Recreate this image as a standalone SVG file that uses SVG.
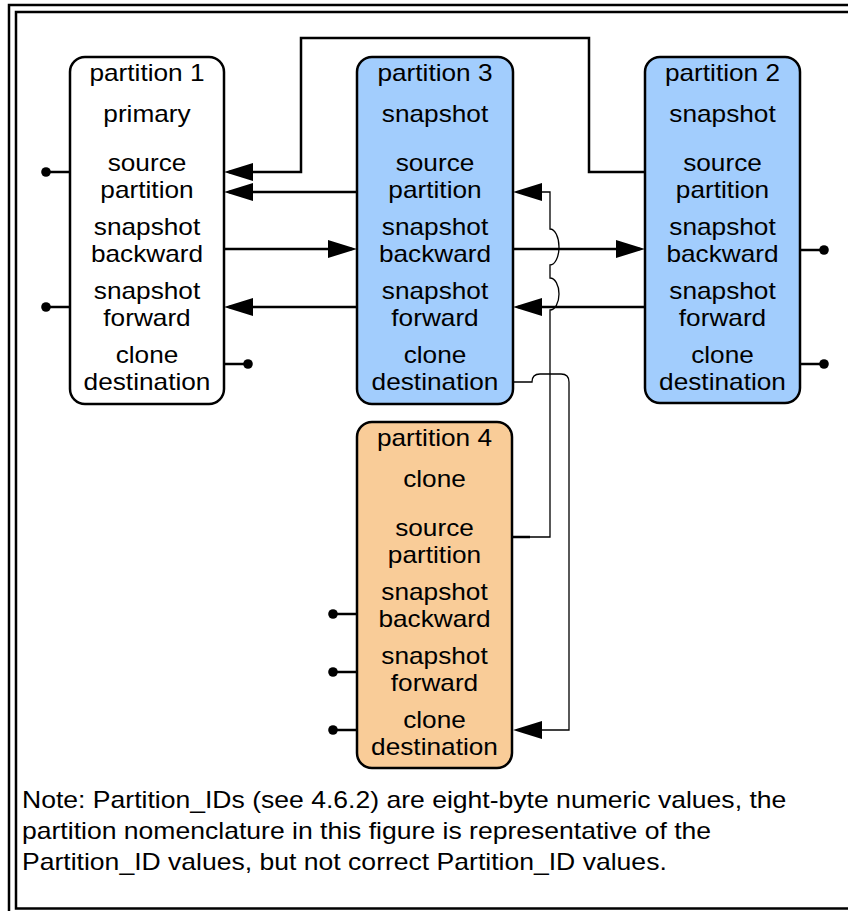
<svg xmlns="http://www.w3.org/2000/svg" width="848" height="911" viewBox="0 0 848 911">
<style>
.frame{fill:none;stroke:#000;stroke-width:2.5}
.box{stroke:#000;stroke-width:2.5}
.p1{fill:#fff}
.blue{fill:#a2cdfd}
.orange{fill:#f9cc98}
.lbl{font-family:"Liberation Sans",Arial,Helvetica,sans-serif;font-size:23px;fill:#000;text-anchor:middle}
.note{font-family:"Liberation Sans",Arial,Helvetica,sans-serif;font-size:23px;fill:#000}
.thick{fill:none;stroke:#000;stroke-width:2.5}
.thin{fill:none;stroke:#000;stroke-width:1.3}
.dot{fill:#000}
</style>
<defs>
<marker id="arr" viewBox="0 0 29 18" markerWidth="29" markerHeight="18" refX="24" refY="9" orient="auto" markerUnits="userSpaceOnUse">
<path d="M0,0 L29,9 L0,18 z" fill="#000"/>
</marker>
</defs>
<rect width="848" height="911" fill="#fff"/>
<path class="frame" d="M9,911 V5 H848"/>
<path class="frame" d="M848,12 H16 V908.5 H848"/>

<g id="partition1">
<rect class="box p1" x="70" y="57" width="154" height="347" rx="15"/>
<g class="lbl" transform="translate(147,0) scale(1.14,1)">
<text x="0" y="81">partition 1</text>
<text x="0" y="122">primary</text>
<text x="0" y="171">source</text>
<text x="0" y="198">partition</text>
<text x="0" y="235">snapshot</text>
<text x="0" y="262">backward</text>
<text x="0" y="299">snapshot</text>
<text x="0" y="326">forward</text>
<text x="0" y="363">clone</text>
<text x="0" y="390">destination</text>
</g>
</g>

<g id="partition3">
<rect class="box blue" x="357" y="57" width="156" height="347" rx="15"/>
<g class="lbl" transform="translate(435,0) scale(1.14,1)">
<text x="0" y="81">partition 3</text>
<text x="0" y="122">snapshot</text>
<text x="0" y="171">source</text>
<text x="0" y="198">partition</text>
<text x="0" y="235">snapshot</text>
<text x="0" y="262">backward</text>
<text x="0" y="299">snapshot</text>
<text x="0" y="326">forward</text>
<text x="0" y="363">clone</text>
<text x="0" y="390">destination</text>
</g>
</g>

<g id="partition2">
<rect class="box blue" x="645" y="57" width="155" height="346" rx="15"/>
<g class="lbl" transform="translate(722.5,0) scale(1.14,1)">
<text x="0" y="81">partition 2</text>
<text x="0" y="122">snapshot</text>
<text x="0" y="171">source</text>
<text x="0" y="198">partition</text>
<text x="0" y="235">snapshot</text>
<text x="0" y="262">backward</text>
<text x="0" y="299">snapshot</text>
<text x="0" y="326">forward</text>
<text x="0" y="363">clone</text>
<text x="0" y="390">destination</text>
</g>
</g>

<g id="partition4">
<rect class="box orange" x="357" y="422" width="155" height="346" rx="15"/>
<g class="lbl" transform="translate(434.5,0) scale(1.14,1)">
<text x="0" y="446">partition 4</text>
<text x="0" y="487">clone</text>
<text x="0" y="536">source</text>
<text x="0" y="563">partition</text>
<text x="0" y="600">snapshot</text>
<text x="0" y="627">backward</text>
<text x="0" y="664">snapshot</text>
<text x="0" y="691">forward</text>
<text x="0" y="728">clone</text>
<text x="0" y="755">destination</text>
</g>
</g>

<g id="connectors">
<path class="thick" d="M645,172 H589 V38 H301 V172 H229" marker-end="url(#arr)"/>
<path class="thick" d="M357,192 H229" marker-end="url(#arr)"/>
<path class="thick" d="M224,249 H352" marker-end="url(#arr)"/>
<path class="thick" d="M513,249 H640" marker-end="url(#arr)"/>
<path class="thick" d="M645,307 H518" marker-end="url(#arr)"/>
<path class="thick" d="M357,307 H229" marker-end="url(#arr)"/>
<path class="thick" d="M512,537 H530"/>
<path class="thin" d="M530,537 H550 V310 A9 16 0 0 0 550,278 V265 A9 18 0 0 0 550,229 V192 H518" marker-end="url(#arr)"/>
<path class="thin" d="M513,382 H532 Q532,374 540,374 H561 Q569,374 569,382 V730 H518" marker-end="url(#arr)"/>
<path class="thick" d="M46,172 H70"/>
<path class="thick" d="M46,307 H70"/>
<path class="thick" d="M224,364 H248"/>
<path class="thick" d="M800,250 H824"/>
<path class="thick" d="M800,364 H824"/>
<path class="thick" d="M333,614 H357"/>
<path class="thick" d="M333,672 H357"/>
<path class="thick" d="M333,730 H357"/>
<circle class="dot" cx="46" cy="172" r="4.8"/>
<circle class="dot" cx="46" cy="307" r="4.8"/>
<circle class="dot" cx="248" cy="364" r="4.8"/>
<circle class="dot" cx="824" cy="250" r="4.8"/>
<circle class="dot" cx="824" cy="364" r="4.8"/>
<circle class="dot" cx="333" cy="614" r="4.8"/>
<circle class="dot" cx="333" cy="672" r="4.8"/>
<circle class="dot" cx="333" cy="730" r="4.8"/>
</g>

<g id="note" class="note" transform="translate(22,0) scale(1.155,1)">
<text x="0" y="808">Note: Partition_IDs (see 4.6.2) are eight-byte numeric values, the</text>
<text x="0" y="839">partition nomenclature in this figure is representative of the</text>
<text x="0" y="870">Partition_ID values, but not correct Partition_ID values.</text>
</g>
</svg>
